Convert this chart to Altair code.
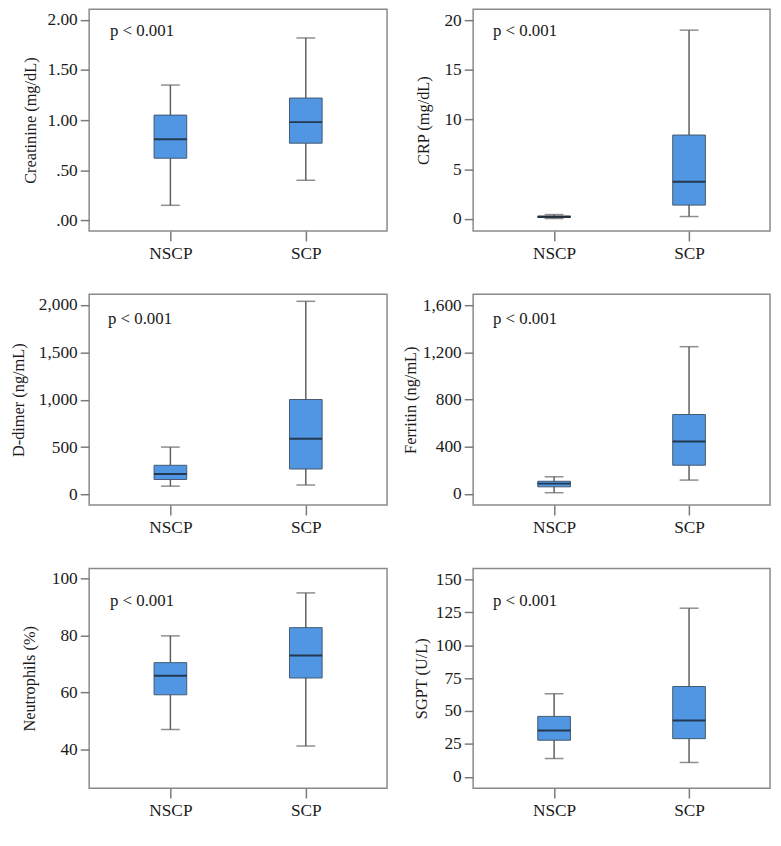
import altair as alt
import pandas as pd

groups = ["NSCP", "SCP"]

# five-number summaries per group: [min, q1, median, q3, max]
creatinine = [[0.15, 0.62, 0.81, 1.05, 1.35], [0.40, 0.77, 0.98, 1.22, 1.82]]
crp = [[0.05, 0.15, 0.22, 0.30, 0.45], [0.25, 1.40, 3.75, 8.45, 19.0]]
ddimer = [[88, 158, 217, 308, 500], [100, 269, 589, 1002, 2038]]
ferritin = [[10, 60, 87, 107, 145], [117, 243, 444, 673, 1248]]
neutrophils = [[47.0, 59.2, 65.9, 70.5, 79.9], [41.2, 65.1, 73.0, 82.8, 95.0]]
sgpt = [[13.9, 27.8, 35.1, 45.9, 63.1], [10.9, 29.0, 42.7, 68.6, 128.1]]

titles = ["Creatinine (mg/dL)", "CRP (mg/dL)", "D-dimer (ng/mL)",
          "Ferritin (ng/mL)", "Neutrophils (%)", "SGPT (U/L)"]
domains = [[-0.106, 2.106], [-1.2, 21.1], [-112, 2112],
           [-95, 1692], [26.4, 103.6], [-8.6, 158.3]]
tick_values = [[0, 0.5, 1.0, 1.5, 2.0], [0, 5, 10, 15, 20],
               [0, 500, 1000, 1500, 2000], [0, 400, 800, 1200, 1600],
               [40, 60, 80, 100], [0, 25, 50, 75, 100, 125, 150]]
p_label = "p < 0.001"

FONT = "Liberation Serif, Times New Roman, Times, serif"
TXT = "#1a1a1a"
BOX_FILL = "#5096e3"
GRAY = "#5e5e5e"


def panel(stats, title, domain, ticks, width, height, title_x, label_expr=None,
          fmt=None, px=20, py=30):
    df = pd.DataFrame({
        "group": groups,
        "lo": [s[0] for s in stats],
        "q1": [s[1] for s in stats],
        "med": [s[2] for s in stats],
        "q3": [s[3] for s in stats],
        "hi": [s[4] for s in stats],
    })
    xenc = alt.X("group:N", sort=groups, title=None,
                 scale=alt.Scale(type="point", padding=0.6),
                 axis=alt.Axis(labelAngle=0, domain=False, grid=False,
                               tickSize=10, tickColor="#7a7a7a", tickWidth=1.5,
                               labelFont=FONT, labelFontSize=17.5, labelColor=TXT,
                               labelPadding=4))
    axis_kw = dict(values=ticks, domain=False, grid=False, tickSize=9,
                   tickColor="#7a7a7a", tickWidth=1.5, labelFont=FONT,
                   labelFontSize=17.5, labelColor=TXT, labelPadding=3,
                   titleFont=FONT, titleFontSize=16.5, titleFontWeight="normal",
                   titleColor=TXT, titleX=title_x)
    if label_expr:
        axis_kw["labelExpr"] = label_expr
    if fmt:
        axis_kw["format"] = fmt
    yaxis = alt.Axis(**axis_kw)
    yscale = alt.Scale(domain=domain, nice=False, zero=False)

    def Y(f):
        return alt.Y(f, title=title, scale=yscale, axis=yaxis)

    base = alt.Chart(df).encode(x=xenc)
    whisk = base.mark_rule(color=GRAY, strokeWidth=1.5).encode(y=Y("lo:Q"), y2="hi:Q")
    cap_lo = base.mark_tick(color=GRAY, size=19, thickness=1.5).encode(y=Y("lo:Q"))
    cap_hi = base.mark_tick(color=GRAY, size=19, thickness=1.5).encode(y=Y("hi:Q"))
    box = base.mark_bar(size=33, fill=BOX_FILL, stroke="#45596e",
                        strokeWidth=1).encode(y=Y("q1:Q"), y2="q3:Q")
    med = base.mark_tick(color="#111111", size=33, thickness=2).encode(y=Y("med:Q"))
    txt = alt.Chart(pd.DataFrame({"t": [p_label]})).mark_text(
        align="left", baseline="alphabetic", font=FONT, fontSize=17, color=TXT
    ).encode(text="t:N", x=alt.value(px), y=alt.value(py))
    return alt.layer(whisk, cap_lo, cap_hi, box, med, txt).properties(
        width=width, height=height)


creat_expr = ("datum.value < 1 ? substring(format(datum.value, '.2f'), 1) "
              ": format(datum.value, '.2f')")

p1 = panel(creatinine, titles[0], domains[0], tick_values[0], 301, 224, -51,
           label_expr=creat_expr, px=21, py=27)
p2 = panel(crp, titles[1], domains[1], tick_values[1], 300, 224, -42,
           fmt="d", px=20, py=27)
p3 = panel(ddimer, titles[2], domains[2], tick_values[2], 301, 213, -63,
           fmt=",d", px=19, py=30)
p4 = panel(ferritin, titles[3], domains[3], tick_values[3], 300, 213, -55,
           fmt=",d", px=20, py=30)
p5 = panel(neutrophils, titles[4], domains[4], tick_values[4], 301, 222, -52,
           fmt="d", px=21, py=38)
p6 = panel(sgpt, titles[5], domains[5], tick_values[5], 300, 222, -44,
           fmt="d", px=20, py=38)

chart = alt.concat(
    p1, p2, p3, p4, p5, p6, columns=2,
    spacing={"row": 64, "column": 87}, bounds="flush"
).properties(
    padding={"left": 2, "top": -4, "right": 2, "bottom": 5},
    background="white",
).configure_view(stroke="#8a8a8a", strokeWidth=1.5)

chart.save("out.html", embed_options={"renderer": "svg", "actions": False})
